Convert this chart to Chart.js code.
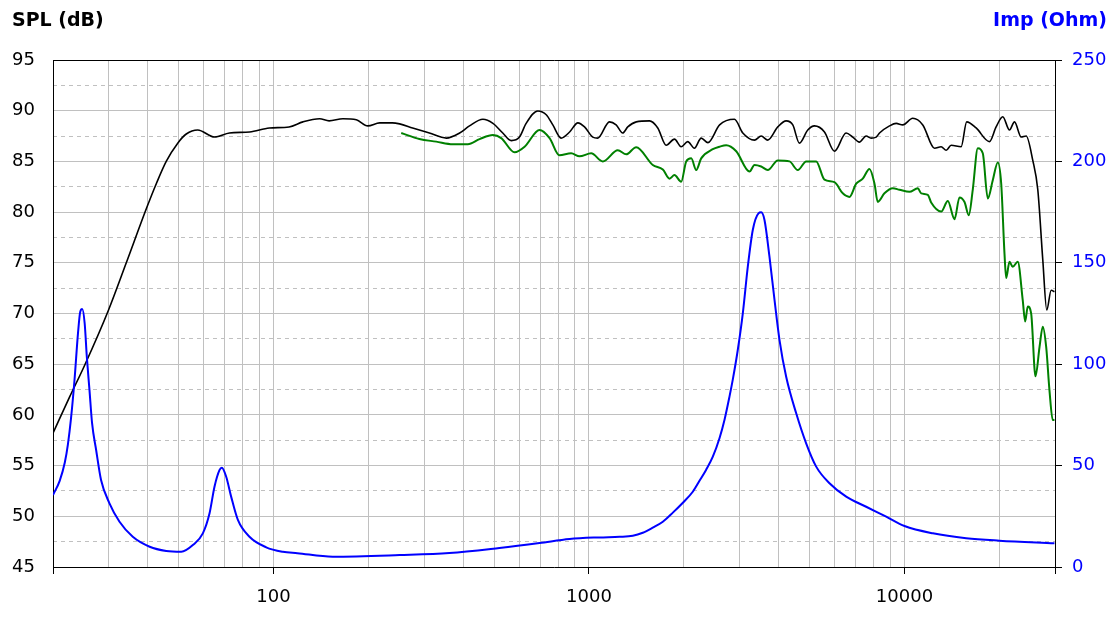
<!DOCTYPE html>
<html>
<head>
<meta charset="utf-8">
<script src="https://cdn.jsdelivr.net/npm/chart.js@4.4.1/dist/chart.umd.min.js"></script>
<style>
  body { margin: 0; background: #fff; }
  #wrap { position: relative; width: 1120px; height: 620px; }
  .ttl { position: absolute; top: 10px; font: bold 19px "DejaVu Sans", sans-serif; line-height: 1; }
</style>
</head>
<body>
<div id="wrap">
  <canvas id="spl" width="1120" height="620"></canvas>
  <div class="ttl" style="left:12px;color:#000;">SPL (dB)</div>
  <div class="ttl" style="right:13px;color:#0000ff;">Imp (Ohm)</div>
</div>
<script>
// axis ticks
const xTicks = [20, 30, 40, 50, 60, 70, 80, 90, 100, 200, 300, 400, 500, 600, 700, 800, 900,
  1000, 2000, 3000, 4000, 5000, 6000, 7000, 8000, 9000, 10000, 20000, 30000];
const xLabels = [100, 1000, 10000];
const xTickMarks = [20, 100, 1000, 10000, 30000];
const splMinorTicks = [47.5, 52.5, 57.5, 62.5, 67.5, 72.5, 77.5, 82.5, 87.5, 92.5];

// SPL, black
const splFreq = [20, 22.6, 25.2, 30, 34.1, 39.6, 42.5, 45.7, 49.7, 52.9, 57.5, 65, 72.5, 84, 97, 112, 124, 140, 150, 166, 183, 199,
  217, 238, 251, 276, 312, 353, 389, 418, 461, 496, 533, 567, 602, 632, 688, 732, 768, 816, 868, 922, 968,
  1028, 1066, 1161, 1219, 1279, 1327, 1412, 1555, 1652, 1757, 1866, 1959, 2056, 2158, 2268, 2382, 2594, 2891,
  3073, 3346, 3514, 3687, 3967, 4217, 4426, 4645, 4937, 5184, 5577, 5998, 6531, 6855, 7194, 7560, 7840, 8135,
  8334, 8966, 9412, 9877, 10620, 11430, 12450, 13070, 13560, 14060, 15120, 15750, 16870, 18590, 19520, 20490,
  21520, 22320, 23440, 24310, 25510, 26460, 27440, 28250, 29170, 29880];
const splDb = [58.2, 61.8, 64.9, 70.35, 74.95, 80.4, 82.8, 85.0, 86.8, 87.7, 88.1, 87.4, 87.8, 87.9, 88.3, 88.4, 88.9, 89.2, 89.0, 89.2, 89.1, 88.5,
  88.8, 88.8, 88.7, 88.3, 87.8, 87.3, 87.8, 88.5, 89.15, 88.75, 87.8, 87.05, 87.4, 88.75, 89.97, 89.6, 88.6, 87.3, 87.9, 88.8, 88.4,
  87.4, 87.3, 88.9, 88.6, 87.8, 88.4, 88.9, 89.0, 88.3, 86.6, 87.2, 86.45, 86.95, 86.3, 87.3, 86.85, 88.6, 89.15,
  87.8, 87.1, 87.5, 87.1, 88.4, 89.0, 88.6, 86.8, 88.1, 88.5, 87.9, 86.0, 87.8, 87.4, 86.9, 87.5, 87.3, 87.4,
  87.8, 88.5, 88.75, 88.6, 89.25, 88.6, 86.3, 86.45, 86.1, 86.6, 86.45, 88.9, 88.3, 86.95, 88.4, 89.4,
  88.1, 88.9, 87.4, 87.5, 85.1, 82.2, 75.3, 70.35, 72.3, 72.15];

// SPL second measurement, green
const spl2Freq = [254, 290, 328, 370, 413, 450, 496, 527, 581, 625, 697, 750, 806, 878, 933, 1016, 1106, 1234, 1312,
  1411, 1593, 1714, 1800, 1866, 1960, 2033, 2109, 2187, 2268, 2469, 2592, 2722, 2929, 3227, 3346, 3514, 3687,
  3967, 4321, 4591, 4879, 5250, 5577, 5998, 6374, 6694, 7030, 7376, 7745, 8035, 8229, 8640, 9183, 9643, 10370,
  11020, 11300, 11860, 12150, 13070, 13720, 14410, 14940, 15500, 15990, 16460, 17080, 17710, 18370, 19050,
  19760, 20260, 20750, 21010, 21520, 22040, 22860, 23710, 24130, 24590, 25210, 26020, 26800, 27440, 28130,
  28810, 29510, 29880];
const spl2Db = [87.8, 87.2, 86.95, 86.7, 86.7, 87.2, 87.6, 87.3, 85.9, 86.45, 88.1, 87.3, 85.6, 85.8, 85.5, 85.8, 85.0, 86.1, 85.7,
  86.4, 84.65, 84.2, 83.3, 83.65, 83.0, 85.0, 85.3, 84.15, 85.3, 86.2, 86.45, 86.6, 86.0, 84.0, 84.65, 84.5, 84.15,
  85.1, 85.0, 84.15, 85.0, 85.0, 83.2, 82.95, 81.85, 81.5, 82.8, 83.3, 84.25, 82.8, 81.0, 81.85, 82.35, 82.2, 82.0,
  82.35, 81.85, 81.7, 80.95, 80.05, 81.1, 79.3, 81.45, 81.0, 79.7, 82.2, 86.3, 85.8, 81.35, 83.15,
  84.9, 82.8, 75.9, 73.5, 75.1, 74.6, 75.1, 71.3, 69.2, 70.7, 70.0, 63.8, 66.7, 68.7, 66.7,
  62.45, 59.5, 59.5];

// impedance, blue
const impFreq = [20, 21, 21.8, 22.3, 22.8, 23.4, 24.0, 24.4, 24.75, 25.2, 25.6, 26.1, 26.6, 27.4, 28.4, 30.2, 32.5,
  35.8, 40.5, 45.7, 51, 55.5, 59.7, 62.7, 65, 67.4, 68.6, 70.8, 73.4, 77.1, 83.9, 94.8, 107, 119, 154, 251, 361,
  520, 697, 868, 1080, 1250, 1377, 1481, 1593, 1714, 1844, 1984, 2133, 2240, 2352, 2469, 2592, 2688, 2788, 2857,
  2962, 3073, 3187, 3305, 3445, 3514, 3600, 3733, 3873, 4017, 4217, 4537, 4879, 5250, 5785, 6535, 7560, 8750,
  10000, 12300, 15690, 20000, 29880];
const impOhm = [35.5, 42.5, 51.5, 60.5, 73.0, 92.2, 115.2, 125.9, 127.2, 120.2, 103.7, 87.3, 70.9, 57.7, 42.9, 31.4, 22.3,
  14.9, 10.0, 7.9, 7.5, 10.8, 16.6, 26.5, 39.6, 47.8, 49.0, 44.5, 34.7, 23.2, 14.9, 9.7, 7.5, 6.8, 5.1, 5.9, 6.9,
  9.4, 11.8, 13.8, 14.6, 14.9, 15.4, 16.9, 19.4, 22.3, 26.8, 31.7, 37.1, 42.5, 48.0, 54.4, 63.5, 72.5, 84.0, 92.5,
  107.0, 125.1, 148.1, 166.2, 174.4, 174.9, 171.1, 153.0, 131.7, 111.9, 93.8, 75.8, 61.0, 49.5, 41.3, 34.7, 29.7, 24.8,
  20.2, 16.6, 14.2, 13.0, 11.7];

const pts = (xs, ys) => xs.map((x, i) => ({ x: x, y: ys[i] }));

const gridGray = '#c0c0c0';
const tickFont = { family: 'DejaVu Sans', size: 18 };

// top edge of the plot frame
const frameTop = {
  id: 'frameTop',
  beforeDatasetsDraw(chart) {
    const { ctx, chartArea } = chart;
    ctx.save();
    ctx.strokeStyle = '#000';
    ctx.lineWidth = 1;
    ctx.beginPath();
    ctx.moveTo(chartArea.left, Math.round(chartArea.top) + 0.5);
    ctx.lineTo(chartArea.right + 1, Math.round(chartArea.top) + 0.5);
    ctx.stroke();
    ctx.restore();
  }
};

const ctx = document.getElementById('spl').getContext('2d');
new Chart(ctx, {
  type: 'scatter',
  data: {
    datasets: [
      {
        label: 'Imp',
        data: pts(impFreq, impOhm),
        yAxisID: 'y2',
        showLine: true,
        borderColor: '#0000ff',
        borderWidth: 2,
        pointRadius: 0,
        cubicInterpolationMode: 'monotone'
      },
      {
        label: 'SPL 2',
        data: pts(spl2Freq, spl2Db),
        yAxisID: 'y',
        showLine: true,
        borderColor: '#008000',
        borderWidth: 2,
        pointRadius: 0,
        cubicInterpolationMode: 'monotone'
      },
      {
        label: 'SPL',
        data: pts(splFreq, splDb),
        yAxisID: 'y',
        showLine: true,
        borderColor: '#000000',
        borderWidth: 1.6,
        pointRadius: 0,
        cubicInterpolationMode: 'monotone'
      }
    ]
  },
  options: {
    responsive: false,
    animation: false,
    layout: { padding: { top: 60, left: 0, right: 0, bottom: 0 } },
    plugins: {
      legend: { display: false },
      tooltip: { enabled: false }
    },
    scales: {
      x: {
        type: 'logarithmic',
        min: 20,
        max: 30000,
        afterBuildTicks: s => { s.ticks = xTicks.map(v => ({ value: v })); },
        afterFit: s => { s.height = 53; },
        ticks: {
          autoSkip: false,
          maxRotation: 0,
          padding: 13,
          color: '#000',
          font: tickFont,
          callback: v => xLabels.includes(v) ? String(v) : ''
        },
        grid: {
          color: gridGray,
          lineWidth: 1,
          tickLength: 7,
          tickColor: c => xTickMarks.includes(c.tick && c.tick.value) ? '#000' : 'rgba(0,0,0,0)'
        },
        border: { color: '#000', width: 1 }
      },
      y: {
        position: 'left',
        min: 45,
        max: 95,
        afterFit: s => { s.width = 53; },
        ticks: { stepSize: 5, padding: 18, color: '#000', font: tickFont },
        grid: { color: gridGray, lineWidth: 1, drawTicks: false },
        border: { color: '#000', width: 1 }
      },
      yMinor: {
        position: 'left',
        min: 45,
        max: 95,
        afterBuildTicks: s => { s.ticks = splMinorTicks.map(v => ({ value: v })); },
        afterFit: s => { s.width = 0; },
        ticks: { display: false },
        grid: { color: gridGray, lineWidth: 1, drawTicks: false },
        border: { display: false, dash: [4, 4] }
      },
      y2: {
        position: 'right',
        min: 0,
        max: 250,
        afterFit: s => { s.width = 65; },
        ticks: { stepSize: 50, padding: 10, color: '#0000ff', font: tickFont },
        grid: { drawOnChartArea: false, tickLength: 7, tickColor: '#000' },
        border: { color: '#000', width: 1 }
      }
    }
  },
  plugins: [frameTop]
});
</script>
</body>
</html>
